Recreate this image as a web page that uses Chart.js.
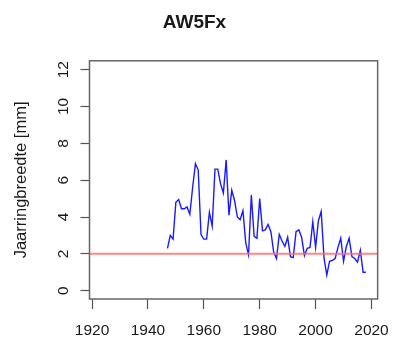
<!DOCTYPE html>
<html>
<head>
<meta charset="utf-8">
<script src="https://cdn.jsdelivr.net/npm/chart.js@4/dist/chart.umd.min.js"></script>
<style>
    html, body { margin: 0; padding: 0; background: #fff; }
    #grafiek { display: block; }
</style>
</head>
<body>
<canvas id="grafiek" width="401" height="343"></canvas>
<script>
// Jaarringbreedtes per jaar
const jaren = [1947, 1948, 1949, 1950, 1951, 1952, 1953, 1954, 1955, 1956,
    1957, 1958, 1959, 1960, 1961, 1962, 1963, 1964, 1965, 1966,
    1967, 1968, 1969, 1970, 1971, 1972, 1973, 1974, 1975, 1976,
    1977, 1978, 1979, 1980, 1981, 1982, 1983, 1984, 1985, 1986,
    1987, 1988, 1989, 1990, 1991, 1992, 1993, 1994, 1995, 1996,
    1997, 1998, 1999, 2000, 2001, 2002, 2003, 2004, 2005, 2006,
    2007, 2008, 2009, 2010, 2011, 2012, 2013, 2014, 2015, 2016,
    2017, 2018];
const breedtes = [2.3, 3.0, 2.8, 4.8, 4.95, 4.45, 4.45, 4.55, 4.15, 5.6,
    6.9, 6.55, 3.05, 2.8, 2.8, 4.25, 3.5, 6.6, 6.6, 5.8,
    5.3, 7.1, 4.1, 5.45, 4.9, 4.0, 3.85, 4.35, 2.6, 1.95,
    5.2, 2.95, 2.85, 5.0, 3.25, 3.3, 3.6, 3.2, 2.1, 1.75,
    3.05, 2.7, 2.4, 2.9, 1.85, 1.8, 3.2, 3.3, 2.9, 1.9,
    2.3, 2.35, 3.75, 2.35, 3.8, 4.3, 1.8, 0.85, 1.6, 1.65,
    1.75, 2.35, 2.85, 1.6, 2.4, 2.85, 1.85, 1.75, 1.55, 2.2,
    1.0, 1.0];

// Drempelwaarde (rode lijn)
const drempel = 2;

// Asgrenzen en maatstreepjes
const xMin = 1919.1;
const xMax = 2022.2;
const xTicks = [1920, 1940, 1960, 1980, 2000, 2020];
const yMin = -0.45;
const yMax = 12.48;
const yTicks = [0, 2, 4, 6, 8, 10, 12];

const tekstKleur = '#1a1a1a';
const asKleur = '#555';
const lettertype = 'Liberation Sans, Arial, sans-serif';

// Kader rond het plotgebied, zoals bij plot() in R
const kaderPlugin = {
    id: 'kader',
    afterDatasetsDraw(chart) {
        const { ctx, chartArea } = chart;
        ctx.save();
        ctx.strokeStyle = '#666';
        ctx.lineWidth = 1.5;
        ctx.strokeRect(chartArea.left, chartArea.top,
            chartArea.right - chartArea.left, chartArea.bottom - chartArea.top);
        ctx.restore();
    }
};

function vasteTicks(waarden) {
    return function(scale) {
        scale.ticks = waarden.map(v => ({ value: v }));
    };
}

const reeks = jaren.map((jaar, i) => ({ x: jaar, y: breedtes[i] }));
const drempelLijn = [{ x: xMin, y: drempel }, { x: xMax, y: drempel }];

new Chart(document.getElementById('grafiek'), {
    type: 'line',
    data: {
        datasets: [
            {
                data: drempelLijn,
                borderColor: 'rgba(255, 110, 110, 0.85)',
                borderWidth: 2,
                pointRadius: 0,
                tension: 0
            },
            {
                data: reeks,
                borderColor: '#1a1aff',
                borderWidth: 1.4,
                pointRadius: 0,
                tension: 0
            }
        ]
    },
    options: {
        responsive: false,
        animation: false,
        layout: {
            padding: { left: 0, right: 12, top: 0, bottom: 0 }
        },
        plugins: {
            legend: { display: false },
            tooltip: { enabled: false },
            title: {
                display: true,
                text: 'AW5Fx',
                color: tekstKleur,
                font: { family: lettertype, size: 19, weight: 'bold' },
                padding: { top: 11, bottom: 27 }
            }
        },
        scales: {
            x: {
                type: 'linear',
                min: xMin,
                max: xMax,
                afterBuildTicks: vasteTicks(xTicks),
                afterFit: function(scale) { scale.height = 44; },
                border: { display: false },
                grid: {
                    display: true,
                    drawOnChartArea: false,
                    drawTicks: true,
                    tickLength: 10,
                    tickColor: asKleur,
                    tickWidth: 1.2
                },
                ticks: {
                    color: tekstKleur,
                    padding: 12,
                    maxRotation: 0,
                    font: { family: lettertype, size: 15.5 },
                    callback: v => String(v)
                }
            },
            y: {
                type: 'linear',
                min: yMin,
                max: yMax,
                afterBuildTicks: vasteTicks(yTicks),
                afterFit: function(scale) { scale.width = 89.5; },
                border: { display: false },
                grid: {
                    display: true,
                    drawOnChartArea: false,
                    drawTicks: true,
                    tickLength: 9,
                    tickColor: asKleur,
                    tickWidth: 1.2
                },
                ticks: {
                    color: tekstKleur,
                    padding: 8,
                    minRotation: 90,
                    maxRotation: 90,
                    crossAlign: 'center',
                    font: { family: lettertype, size: 15.5 },
                    callback: v => String(v)
                },
                title: {
                    display: true,
                    text: 'Jaarringbreedte [mm]',
                    color: tekstKleur,
                    font: { family: lettertype, size: 16.5 },
                    padding: { top: 12, bottom: 0 }
                }
            }
        }
    },
    plugins: [kaderPlugin]
});
</script>
</body>
</html>
